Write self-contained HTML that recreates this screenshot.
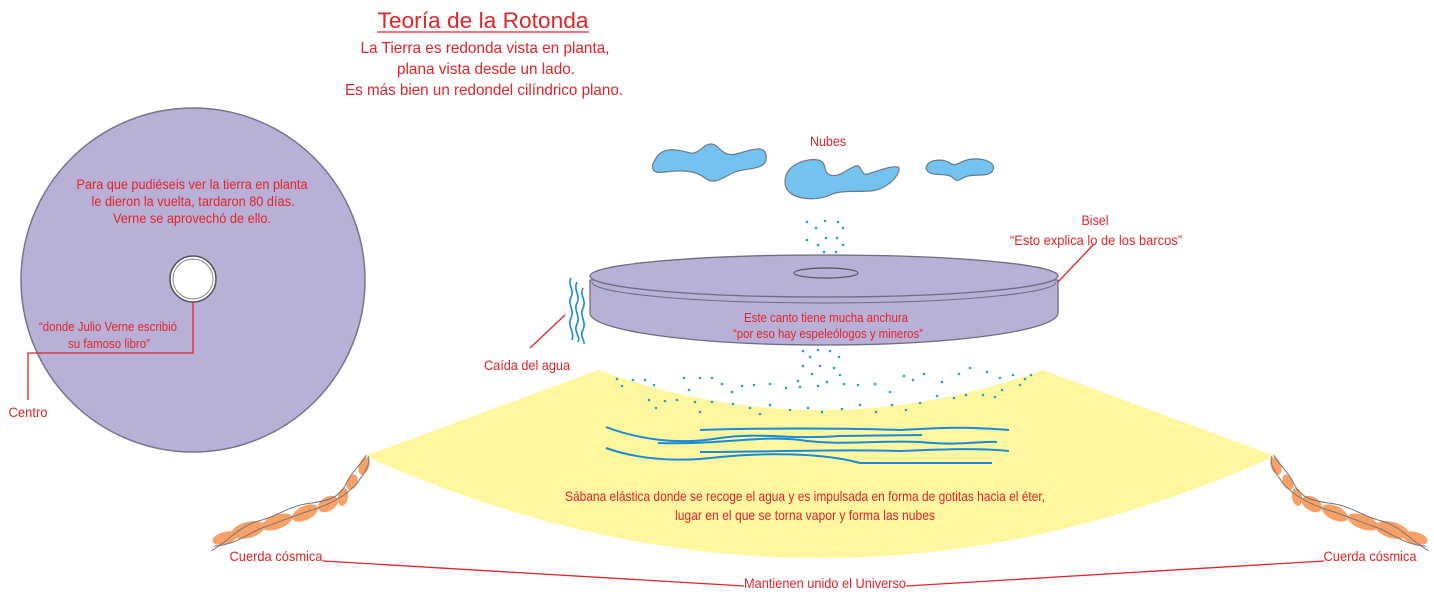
<!DOCTYPE html>
<html><head><meta charset="utf-8">
<style>
html,body{margin:0;padding:0;background:#fff;}
svg{display:block;}
text{font-family:"Liberation Sans",sans-serif;fill:#e0242a;}
</style></head>
<body>
<svg width="1434" height="600" viewBox="0 0 1434 600" xmlns="http://www.w3.org/2000/svg">
<!-- Title -->
<text x="483" y="28" font-size="22" text-anchor="middle" textLength="211" lengthAdjust="spacingAndGlyphs">Teoría de la Rotonda</text>
<line x1="377" y1="32" x2="589" y2="32" stroke="#e0242a" stroke-width="1.3"/>
<text x="485" y="53" font-size="16" text-anchor="middle" textLength="249" lengthAdjust="spacingAndGlyphs">La Tierra es redonda vista en planta,</text>
<text x="486" y="74" font-size="16" text-anchor="middle" textLength="178" lengthAdjust="spacingAndGlyphs">plana vista desde un lado.</text>
<text x="484" y="95" font-size="16" text-anchor="middle" textLength="278" lengthAdjust="spacingAndGlyphs">Es más bien un redondel cilíndrico plano.</text>

<!-- Left disc -->
<circle cx="193" cy="280" r="172" fill="#b8b0d6" stroke="#77748a" stroke-width="1.5"/>
<circle cx="193" cy="279" r="23" fill="#fff" stroke="#555" stroke-width="1.5"/>
<circle cx="193" cy="279" r="20" fill="none" stroke="#888" stroke-width="1"/>
<text x="192" y="189" font-size="13.5" text-anchor="middle" textLength="231" lengthAdjust="spacingAndGlyphs">Para que pudiéseis ver la tierra en planta</text>
<text x="193" y="206" font-size="13.5" text-anchor="middle" textLength="203" lengthAdjust="spacingAndGlyphs">le dieron la vuelta, tardaron 80 días.</text>
<text x="192" y="223" font-size="13.5" text-anchor="middle" textLength="158" lengthAdjust="spacingAndGlyphs">Verne se aprovechó de ello.</text>
<text x="108" y="331" font-size="13" text-anchor="middle" textLength="138" lengthAdjust="spacingAndGlyphs">“donde Julio Verne escribió</text>
<text x="109" y="348" font-size="13" text-anchor="middle" textLength="82" lengthAdjust="spacingAndGlyphs">su famoso libro”</text>
<polyline points="193,302 193,353 28,353 28,400" fill="none" stroke="#e0242a" stroke-width="1.3"/>
<text x="28" y="417" font-size="13.5" text-anchor="middle" textLength="39" lengthAdjust="spacingAndGlyphs">Centro</text>

<!-- Clouds -->
<g fill="#74c2ef" stroke="#6a7a88" stroke-width="1.2">
<path d="M655,160 C662,145 680,150 690,153 C700,155 705,140 715,145 C722,150 725,158 740,153 C755,148 768,145 766,160 C764,170 745,168 735,172 C725,176 715,186 705,178 C695,170 680,170 665,172 C652,174 650,168 655,160Z"/>
<path d="M785,182 C785,165 805,158 818,160 C828,162 822,172 830,175 C840,178 848,168 856,166 C862,164 860,176 868,174 C880,170 897,164 899,168 C900,176 886,190 870,191 C855,192 840,190 830,195 C815,202 785,200 785,182Z"/>
<path d="M926,168 C928,158 945,159 950,163 C956,168 960,160 972,159 C985,158 996,163 993,170 C990,177 978,174 968,176 C960,178 958,184 952,177 C946,172 928,178 926,168Z"/>
</g>
<text x="828" y="146" font-size="13.5" text-anchor="middle" textLength="36" lengthAdjust="spacingAndGlyphs">Nubes</text>

<!-- Yellow sheet -->
<path d="M365,456 L598,370 Q820,450 1043,370 L1275,456 Q820,660 365,456Z" fill="#fff7a0"/>

<!-- Blue water lines -->
<g fill="none" stroke="#1a8ad6" stroke-width="2">
<path d="M606,427 C640,440 680,445 720,438 C760,432 790,440 840,436 L922,435"/>
<path d="M700,430 C760,428 840,428 900,430 C940,428 960,426 1009,430"/>
<path d="M658,443 C720,445 760,435 800,440 C840,446 880,440 920,442 C960,446 980,441 997,442"/>
<path d="M606,448 C640,460 680,462 720,457 C760,453 820,452 860,463 L992,463"/>
<path d="M700,452 C760,452 840,449 900,451 C950,449 980,448 1009,451"/>
</g>

<!-- dots -->
<g fill="#22a6c6">
<circle cx="807" cy="222" r="1.3"/><circle cx="825" cy="221" r="1.3"/><circle cx="838" cy="222" r="1.3"/><circle cx="816" cy="228" r="1.3"/><circle cx="843" cy="228" r="1.3"/><circle cx="807" cy="240" r="1.3"/><circle cx="826" cy="238" r="1.3"/><circle cx="837" cy="238" r="1.3"/><circle cx="818" cy="245" r="1.3"/><circle cx="843" cy="245" r="1.3"/><circle cx="824" cy="252" r="1.3"/><circle cx="836" cy="252" r="1.3"/><circle cx="815" cy="260" r="1.3"/><circle cx="827" cy="259" r="1.3"/><circle cx="843" cy="260" r="1.3"/><circle cx="808" cy="268" r="1.3"/><circle cx="826" cy="267" r="1.3"/><circle cx="838" cy="270" r="1.3"/><circle cx="817" cy="275" r="1.3"/><circle cx="845" cy="275" r="1.3"/>
<circle cx="803" cy="351" r="1.3"/><circle cx="818" cy="350" r="1.3"/><circle cx="830" cy="351" r="1.3"/><circle cx="810" cy="357" r="1.3"/><circle cx="839" cy="357" r="1.3"/><circle cx="803" cy="366" r="1.3"/><circle cx="820" cy="366" r="1.3"/><circle cx="834" cy="368" r="1.3"/><circle cx="812" cy="374" r="1.3"/><circle cx="840" cy="375" r="1.3"/><circle cx="798" cy="381" r="1.3"/><circle cx="827" cy="382" r="1.3"/><circle cx="844" cy="384" r="1.3"/>
<circle cx="617" cy="379" r="1.3"/><circle cx="633" cy="380" r="1.3"/><circle cx="645" cy="380" r="1.3"/><circle cx="622" cy="386" r="1.3"/><circle cx="654" cy="385" r="1.3"/><circle cx="684" cy="378" r="1.3"/><circle cx="700" cy="378" r="1.3"/><circle cx="712" cy="378" r="1.3"/><circle cx="722" cy="384" r="1.3"/><circle cx="742" cy="386" r="1.3"/><circle cx="754" cy="385" r="1.3"/><circle cx="689" cy="390" r="1.3"/><circle cx="732" cy="392" r="1.3"/><circle cx="770" cy="384" r="1.3"/><circle cx="786" cy="388" r="1.3"/><circle cx="800" cy="387" r="1.3"/><circle cx="818" cy="386" r="1.3"/><circle cx="858" cy="385" r="1.3"/><circle cx="875" cy="384" r="1.3"/><circle cx="890" cy="392" r="1.3"/><circle cx="904" cy="376" r="1.3"/><circle cx="913" cy="380" r="1.3"/><circle cx="924" cy="374" r="1.3"/><circle cx="942" cy="382" r="1.3"/><circle cx="959" cy="374" r="1.3"/><circle cx="970" cy="368" r="1.3"/><circle cx="987" cy="372" r="1.3"/><circle cx="1000" cy="378" r="1.3"/><circle cx="1013" cy="375" r="1.3"/><circle cx="1031" cy="375" r="1.3"/><circle cx="1025" cy="379" r="1.3"/><circle cx="1020" cy="385" r="1.3"/>
<circle cx="649" cy="400" r="1.3"/><circle cx="665" cy="401" r="1.3"/><circle cx="677" cy="400" r="1.3"/><circle cx="695" cy="402" r="1.3"/><circle cx="712" cy="402" r="1.3"/><circle cx="733" cy="404" r="1.3"/><circle cx="750" cy="408" r="1.3"/><circle cx="770" cy="405" r="1.3"/><circle cx="790" cy="410" r="1.3"/><circle cx="808" cy="408" r="1.3"/><circle cx="842" cy="409" r="1.3"/><circle cx="860" cy="405" r="1.3"/><circle cx="876" cy="412" r="1.3"/><circle cx="892" cy="405" r="1.3"/><circle cx="920" cy="403" r="1.3"/><circle cx="937" cy="396" r="1.3"/><circle cx="954" cy="398" r="1.3"/><circle cx="966" cy="395" r="1.3"/><circle cx="983" cy="395" r="1.3"/><circle cx="995" cy="397" r="1.3"/><circle cx="1002" cy="390" r="1.3"/><circle cx="656" cy="408" r="1.3"/><circle cx="700" cy="412" r="1.3"/><circle cx="760" cy="414" r="1.3"/><circle cx="822" cy="412" r="1.3"/><circle cx="906" cy="410" r="1.3"/>
</g>

<!-- Flat disc -->
<path d="M590,280 L590,313 A234,32 0 0 0 1058,313 L1058,280 Z" fill="#b8b0d6" stroke="#6f6c80" stroke-width="1.3"/>
<ellipse cx="824" cy="276" rx="234" ry="21" fill="#b8b0d6" stroke="#6f6c80" stroke-width="1.3"/>
<path d="M592,282 A232,21 0 0 0 1056,282" fill="none" stroke="#6f6c80" stroke-width="1"/>
<ellipse cx="826" cy="273" rx="32" ry="5" fill="#b8b0d6" stroke="#555" stroke-width="1.2"/>
<text x="826" y="322" font-size="13" text-anchor="middle" textLength="164" lengthAdjust="spacingAndGlyphs">Este canto tiene mucha anchura</text>
<text x="828" y="338" font-size="13" text-anchor="middle" textLength="190" lengthAdjust="spacingAndGlyphs">“por eso hay espeleólogos y mineros”</text>

<!-- Bisel -->
<line x1="1058" y1="282" x2="1094" y2="244" stroke="#e0242a" stroke-width="1.3"/>
<text x="1095" y="225" font-size="14" text-anchor="middle" textLength="27" lengthAdjust="spacingAndGlyphs">Bisel</text>
<text x="1096" y="245" font-size="14" text-anchor="middle" textLength="172" lengthAdjust="spacingAndGlyphs">“Esto explica lo de los barcos”</text>

<!-- Water falling -->
<g fill="none" stroke="#1a8ad6" stroke-width="1.6">
<path d="M571,278 C567,285 575,290 571,297 C567,304 575,310 571,318 C567,326 575,332 572,340"/>
<path d="M577,282 C573,290 581,296 577,303 C573,310 581,316 577,324 C573,332 581,336 578,342"/>
<path d="M583,288 C579,295 587,300 583,308 C579,316 587,322 583,330 C579,336 585,340 584,344"/>
</g>
<line x1="530" y1="348" x2="565" y2="315" stroke="#e0242a" stroke-width="1.3"/>
<text x="527" y="370" font-size="14" text-anchor="middle" textLength="86" lengthAdjust="spacingAndGlyphs">Caída del agua</text>

<text x="805" y="501" font-size="14" text-anchor="middle" textLength="480" lengthAdjust="spacingAndGlyphs">Sábana elástica donde se recoge el agua y es impulsada en forma de gotitas hacia el éter,</text>
<text x="805" y="520" font-size="14" text-anchor="middle" textLength="260" lengthAdjust="spacingAndGlyphs">lugar en el que se torna vapor y forma las nubes</text>

<!-- Ropes -->
<g id="rope">
<g fill="#f9a066">
<ellipse cx="225" cy="538" rx="13" ry="6" transform="rotate(-15 225 538)"/>
<ellipse cx="248" cy="530" rx="17" ry="8" transform="rotate(-15 248 530)"/>
<ellipse cx="277" cy="522" rx="16" ry="7" transform="rotate(-20 277 522)"/>
<ellipse cx="305" cy="513" rx="14" ry="7" transform="rotate(-25 305 513)"/>
<ellipse cx="328" cy="504" rx="11" ry="7" transform="rotate(-30 328 504)"/>
<ellipse cx="343" cy="497" rx="5" ry="9" transform="rotate(10 343 497)"/>
<ellipse cx="352" cy="482" rx="5" ry="8" transform="rotate(25 352 482)"/>
<ellipse cx="364" cy="466" rx="5" ry="9" transform="rotate(20 364 466)"/>
</g>
<g fill="none" stroke="#777" stroke-width="1">
<path d="M211,551 C230,540 240,525 262,520 C280,515 290,505 312,503 C330,500 340,498 348,480 C355,468 365,460 366,455"/>
<path d="M214,546 C235,545 245,535 262,528 C285,520 295,515 318,508 C335,502 345,495 356,485 C362,475 372,465 368,456"/>
</g>
</g>
<use href="#rope" transform="translate(1640 0) scale(-1 1)"/>

<!-- Cuerda labels -->
<text x="276" y="561" font-size="14" text-anchor="middle" textLength="93" lengthAdjust="spacingAndGlyphs">Cuerda cósmica</text>
<text x="1370" y="561" font-size="14" text-anchor="middle" textLength="93" lengthAdjust="spacingAndGlyphs">Cuerda cósmica</text>
<line x1="323" y1="561" x2="744" y2="586" stroke="#e0242a" stroke-width="1.3"/>
<line x1="906" y1="586" x2="1324" y2="561" stroke="#e0242a" stroke-width="1.3"/>
<text x="825" y="588" font-size="14" text-anchor="middle" textLength="162" lengthAdjust="spacingAndGlyphs">Mantienen unido el Universo</text>
</svg>
</body></html>
